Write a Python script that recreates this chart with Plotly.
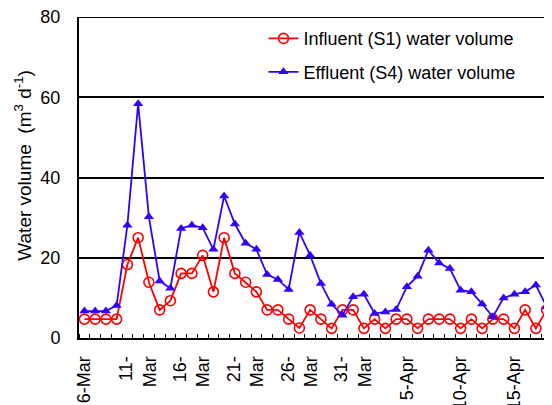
import pandas as pd
import plotly.graph_objects as go

# daily sampling dates, 6 Mar -> 18 Apr
dates = pd.date_range("2013-03-06", periods=44, freq="D")

# values (m3/d)
influent_s1 = [4.7, 4.7, 4.7, 4.7, 18.3, 25.0, 13.9, 7.0, 9.3, 16.1,
               16.1, 20.6, 11.5, 25.0, 16.1, 13.9, 11.5, 7.0, 7.0, 4.7,
               2.5, 7.0, 4.7, 2.4, 7.0, 7.0, 2.4, 4.7, 2.4, 4.7,
               4.7, 2.4, 4.7, 4.7, 4.7, 2.4, 4.7, 2.4, 4.7, 4.7,
               2.4, 7.0, 2.4, 7.0]
effluent_s4 = [6.7, 6.7, 6.7, 8.1, 28.1, 58.4, 30.2, 14.2, 12.4, 27.3,
               28.1, 27.5, 22.1, 35.4, 28.4, 23.6, 22.1, 15.8, 14.6, 12.1,
               26.3, 20.6, 13.6, 8.4, 5.7, 10.3, 10.9, 6.1, 6.5, 7.1,
               12.8, 15.4, 21.9, 18.7, 17.3, 11.9, 11.5, 8.5, 5.3, 10.0,
               10.9, 11.5, 13.2, 7.8]

# labelled dates every 5 days
label_dates = pd.date_range("2013-03-06", periods=9, freq="5D")
label_text = ["6-Mar", "11-<br>Mar", "16-<br>Mar", "21-<br>Mar", "26-<br>Mar",
              "31-<br>Mar", "5-Apr", "10-Apr", "15-Apr"]

FONT = "Liberation Sans, Arial, sans-serif"
RED = "#ff0000"
BLUE = "#3300ff"

fig = go.Figure()
fig.add_trace(go.Scatter(
    x=dates, y=influent_s1, mode="lines+markers",
    name="Influent (S1) water volume", legendgroup="s1",
    line=dict(color=RED, width=1.8),
    marker=dict(symbol="circle-open", size=10, color=RED, line=dict(width=1.6)),
))
fig.add_trace(go.Scatter(
    x=dates, y=effluent_s4, mode="lines+markers",
    name="Effluent (S4) water volume", legendgroup="s4",
    line=dict(color=BLUE, width=1.8),
    marker=dict(symbol="triangle-up", size=9, color=BLUE),
))

fig.add_annotation(
    text="Water volume  (m<sup>3</sup> d<sup>-1</sup>)",
    textangle=-90, xref="paper", yref="paper", x=-0.119, y=0.539,
    xanchor="center", yanchor="middle",
    showarrow=False, font=dict(size=19, color="black", family=FONT),
)
# top frame line at 80
fig.add_shape(type="line", xref="paper", yref="y", x0=0, x1=1, y0=80, y1=80,
              line=dict(color="black", width=2))

# the page body adds an 8px offset, so the figure is 8px smaller
fig.update_layout(
    width=544, height=397,
    margin=dict(l=71, r=0, t=9, b=67, autoexpand=False),
    plot_bgcolor="white", paper_bgcolor="white",
    font=dict(family=FONT, size=18, color="black"),
    showlegend=True,
    legend=dict(x=0.39, y=0.99, xanchor="left", yanchor="top",
                bgcolor="rgba(0,0,0,0)", tracegroupgap=7,
                font=dict(size=18)),
    xaxis=dict(
        range=["2013-03-05 12:00", "2013-04-18 12:00"],
        tickmode="array", tickvals=label_dates, ticktext=label_text,
        tickangle=-90, ticks="", showgrid=False, automargin=False,
        showline=True, linecolor="black", linewidth=2,
        ticklabelstandoff=9, ticklabeloverflow="allow",
        minor=dict(dtick=86400000, tick0="2013-03-05 12:00",
                   ticks="inside", ticklen=4, tickwidth=1.2,
                   tickcolor="black", showgrid=False),
    ),
    yaxis=dict(
        range=[0, 80], dtick=20, showgrid=True, gridcolor="black",
        gridwidth=1.5, zeroline=False, showline=True, automargin=False,
        linecolor="black", linewidth=2, ticks="",
        ticklabelstandoff=13, ticklabeloverflow="allow",
    ),
)

fig.write_html("out.html")
